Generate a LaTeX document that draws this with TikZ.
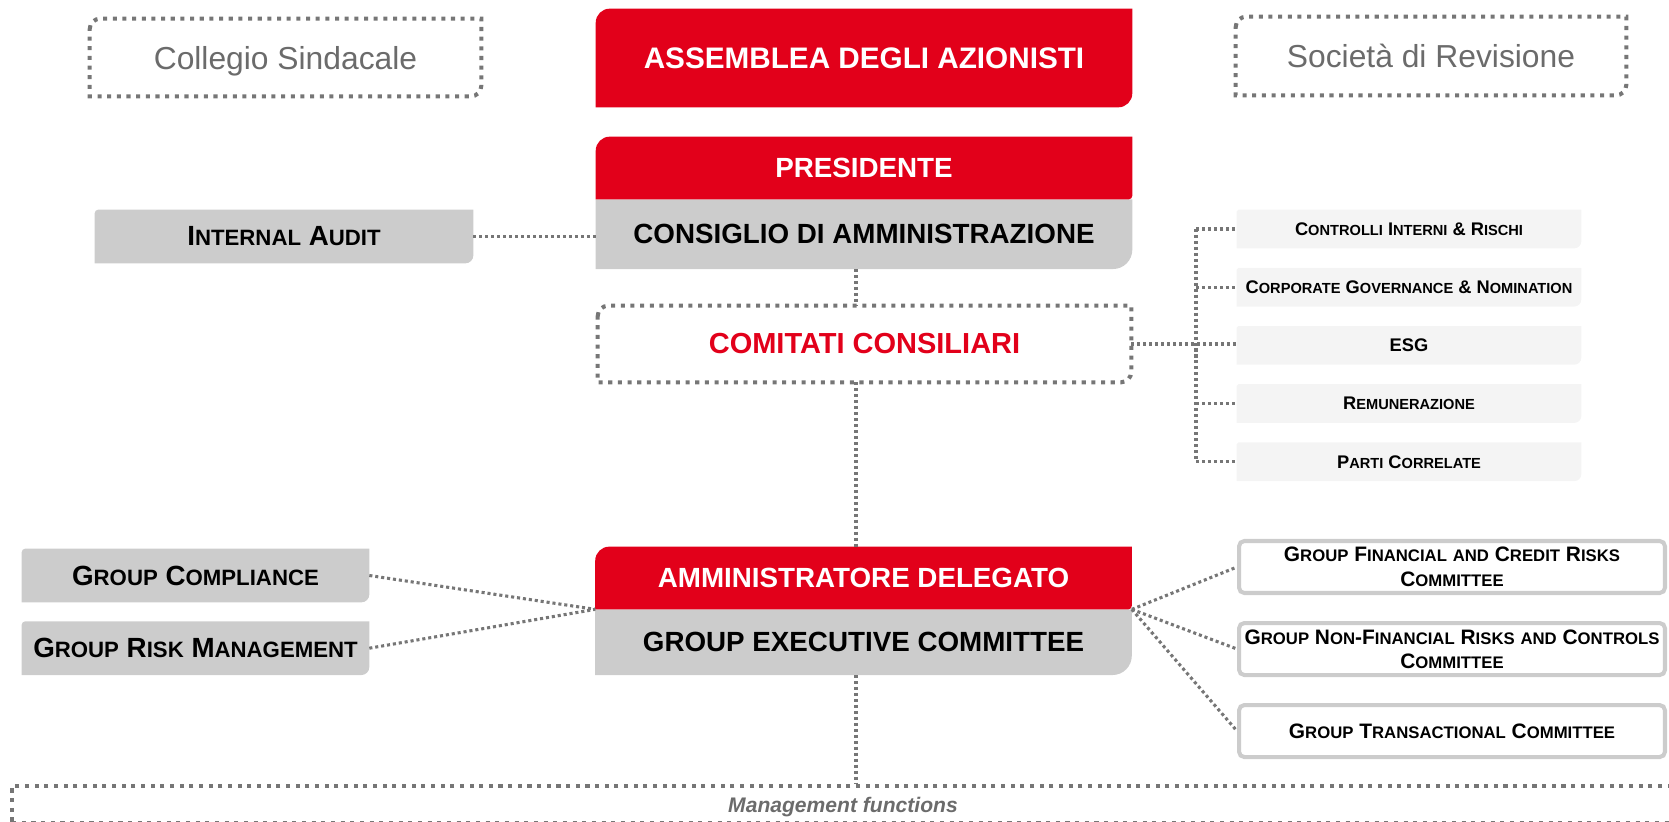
\documentclass[tikz,border=0pt]{standalone}
\usepackage{fontspec}
\setmainfont{Liberation Sans}
\newfontfamily\scfont[Scale=0.8]{Liberation Sans}
\usetikzlibrary{positioning,backgrounds}

\definecolor{ucred}{RGB}{226,0,26}
\definecolor{boxgray}{RGB}{204,204,204}
\definecolor{lightbox}{RGB}{244,244,244}
\definecolor{dotgray}{RGB}{118,118,118}
\definecolor{textgray}{RGB}{107,107,107}

\newcommand{\sk}[1]{{\scfont #1}}
% box with rounded top left and bottom right corner
\newcommand{\diagbox}[4]{%
  \path[#4] ([yshift=-#2]#1.north west) arc[start angle=180,end angle=90,radius=#2]
    -- (#1.north east) -- ([yshift=#3]#1.south east)
    arc[start angle=0,end angle=-90,radius=#3] -- (#1.south west) -- cycle;}

\begin{document}
\begin{tikzpicture}[x=0.02cm, y=-0.02cm,
    bigtext/.style={font=\bfseries\fontsize{15.8}{18}\selectfont, minimum width=10.72cm, inner sep=0pt},
    sidebox/.style={font=\bfseries\fontsize{15.8}{18}\selectfont, minimum height=1.06cm, inner sep=0pt},
    smallbox/.style={font=\bfseries\fontsize{10.4}{12}\selectfont, minimum width=6.88cm, minimum height=0.76cm, inner sep=0pt},
    execbox/.style={draw=boxgray, line width=2.3pt, rounded corners=3pt, fill=white, align=center,
        font=\bfseries\fontsize{11.9}{13.9}\selectfont, minimum width=8.52cm, minimum height=1.04cm, inner sep=0pt},
    outside/.style={font=\fontsize{18.1}{21}\selectfont, text=textgray, text depth=0pt, inner sep=0pt},
    dotbox/.style={draw=dotgray, line width=2.3pt, dash pattern=on 2.3pt off 3.2pt},
    link/.style={draw=dotgray, line width=1.75pt, dash pattern=on 1.75pt off 1.65pt}]
    \useasboundingbox (0,0) rectangle (1669,821);

    % top row
    \node[outside, minimum width=7.82cm, minimum height=1.54cm] (Collegio) at (285.5,57.5) {Collegio Sindacale};
    \node[bigtext, text=white, minimum height=1.96cm, font=\bfseries\fontsize{16.9}{19}\selectfont] (Assemblea) at (864,58) {ASSEMBLEA DEGLI AZIONISTI};
    \node[outside, minimum width=7.8cm, minimum height=1.56cm] (Revisione) at (1431,56) {Società di Revisione};

    % board
    \node[bigtext, text=white, minimum height=1.24cm] (Presidente) at (864,168) {PRESIDENTE};
    \node[bigtext, minimum height=1.38cm, below=0pt of Presidente] (Consiglio) {CONSIGLIO DI AMMINISTRAZIONE};
    \node[sidebox, minimum width=7.56cm] (Audit) at (284,236.5) {I\sk{NTERNAL} A\sk{UDIT}};
    \node[bigtext, text=ucred, minimum width=10.66cm, minimum height=1.52cm, font=\bfseries\fontsize{16.5}{19}\selectfont] (Comitati) at (864.5,344) {COMITATI CONSILIARI};

    % board committees
    \begin{scope}[node distance=0.39cm]
        \node[smallbox] (Controlli) at (1409,229) {C\sk{ONTROLLI} I\sk{NTERNI} \& R\sk{ISCHI}};
        \node[smallbox, below=of Controlli] (Governance) {C\sk{ORPORATE} G\sk{OVERNANCE} \& N\sk{OMINATION}};
        \node[smallbox, below=of Governance] (ESG) {ESG};
        \node[smallbox, below=of ESG] (Remunerazione) {R\sk{EMUNERAZIONE}};
        \node[smallbox, below=of Remunerazione] (Parti) {P\sk{ARTI} C\sk{ORRELATE}};
    \end{scope}

    % management
    \node[bigtext, text=white, minimum height=1.24cm] (AD) at (863.5,578) {AMMINISTRATORE DELEGATO};
    \node[bigtext, minimum height=1.3cm, below=0pt of AD] (GEC) {GROUP EXECUTIVE COMMITTEE};
    \node[sidebox, minimum width=6.94cm] (Compliance) at (195.5,575.5) {G\sk{ROUP} C\sk{OMPLIANCE}};
    \node[sidebox, minimum width=6.94cm, below=0.38cm of Compliance] (RiskMgmt) {G\sk{ROUP} R\sk{ISK} M\sk{ANAGEMENT}};

    \begin{scope}[node distance=0.52cm]
        \node[execbox] (FinRisk) at (1452,567) {G\sk{ROUP} F\sk{INANCIAL} \sk{AND} C\sk{REDIT} R\sk{ISKS}\\C\sk{OMMITTEE}};
        \node[execbox, below=of FinRisk] (NonFin) {G\sk{ROUP} N\sk{ON}-F\sk{INANCIAL} R\sk{ISKS} \sk{AND} C\sk{ONTROLS}\\C\sk{OMMITTEE}};
        \node[execbox, below=of NonFin] (Transactional) {G\sk{ROUP} T\sk{RANSACTIONAL} C\sk{OMMITTEE}};
    \end{scope}

    \node[dotbox, minimum width=33.24cm, minimum height=0.74cm, inner sep=0pt, text=textgray, text depth=0pt,
        font=\bfseries\itshape\fontsize{12}{14}\selectfont] (Management) at (843,804.5) {Management functions};

    % box shapes
    \begin{scope}[on background layer]
        \diagbox{Collegio}{6pt}{6pt}{dotbox}
        \diagbox{Revisione}{6pt}{6pt}{dotbox}
        \diagbox{Comitati}{6pt}{6pt}{dotbox}
        \diagbox{Assemblea}{8pt}{8pt}{fill=ucred}
        \diagbox{Consiglio}{0.1pt}{11pt}{fill=boxgray}
        \diagbox{Presidente}{8pt}{2pt}{fill=ucred}
        \diagbox{GEC}{0.1pt}{11pt}{fill=boxgray}
        \diagbox{AD}{8pt}{2pt}{fill=ucred}
        \diagbox{Audit}{2pt}{4.5pt}{fill=boxgray}
        \diagbox{Compliance}{2pt}{4.5pt}{fill=boxgray}
        \diagbox{RiskMgmt}{2pt}{4.5pt}{fill=boxgray}
        \diagbox{Controlli}{1pt}{4pt}{fill=lightbox}
        \diagbox{Governance}{1pt}{4pt}{fill=lightbox}
        \diagbox{ESG}{1pt}{4pt}{fill=lightbox}
        \diagbox{Remunerazione}{1pt}{4pt}{fill=lightbox}
        \diagbox{Parti}{1pt}{4pt}{fill=lightbox}
    \end{scope}

    % connectors
    \coordinate (Spine) at (856,0);
    \coordinate (Bus) at (1196,344);
    \draw[link] (Audit.east) -- (Audit.east -| Consiglio.west);
    \draw[link] (Spine |- Consiglio.south) -- (Spine |- Comitati.north);
    \draw[link] (Spine |- Comitati.south) -- (Spine |- AD.north);
    \draw[link] (Spine |- GEC.south) -- (Spine |- Management.north);
    \draw[link] (Comitati.east) -- (Comitati.east -| ESG.west);
    \draw[link] (Bus |- Controlli.west) -- (Bus |- Parti.west);
    \draw[link] (Bus |- Controlli.west) -- (Controlli.west);
    \draw[link] (Bus |- Governance.west) -- (Governance.west);
    \draw[link] (Bus |- Remunerazione.west) -- (Remunerazione.west);
    \draw[link] (Bus |- Parti.west) -- (Parti.west);
    \draw[link] (Compliance.east) -- (AD.south west);
    \draw[link] (RiskMgmt.east) -- (AD.south west);
    \draw[link] (AD.south east) -- (FinRisk.west);
    \draw[link] (AD.south east) -- (NonFin.west);
    \draw[link] (AD.south east) -- (Transactional.west);
\end{tikzpicture}
\end{document}
